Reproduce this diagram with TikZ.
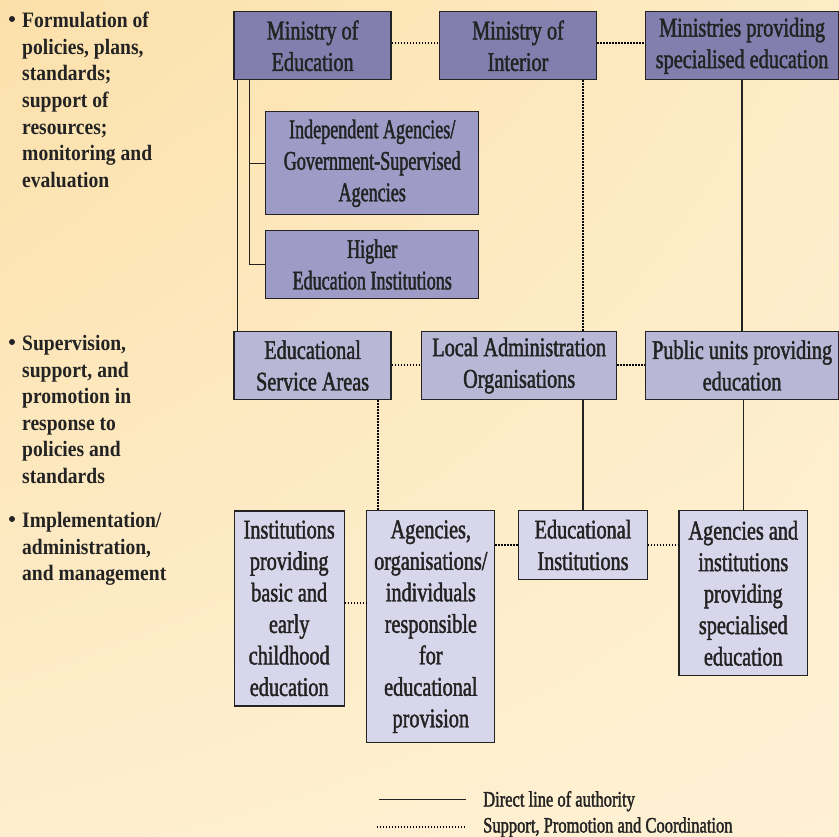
\documentclass[tikz,border=0pt]{standalone}
\usepackage{fontspec}
\setmainfont{Liberation Serif}
\newfontfamily\boxfont[FakeStretch=0.75,FakeBold=1.6]{Liberation Serif}
\newfontfamily\boxfontnarrow[FakeStretch=0.67,FakeBold=1.6]{Liberation Serif}
\newfontfamily\sidefont[FakeStretch=0.89]{Liberation Serif}
\usetikzlibrary{calc,shadings}
\definecolor{lvA}{RGB}{130,127,175}
\definecolor{lvB}{RGB}{158,155,198}
\definecolor{lvC}{RGB}{185,183,214}
\definecolor{lvD}{RGB}{216,214,234}
\definecolor{bgUL}{RGB}{252,224,170}
\definecolor{bgUR}{RGB}{253,236,198}
\definecolor{bgLL}{RGB}{254,238,205}
\definecolor{bgLR}{RGB}{254,241,212}
\definecolor{ink}{RGB}{35,35,35}
\tikzset{
  orgbox/.style={draw=ink, line width=1.3pt, inner sep=0pt, align=center, text=ink,
    font=\boxfont\fontsize{27}{31.5}\selectfont},
  narrowbox/.style={orgbox, font=\boxfontnarrow\fontsize{27}{31.5}\selectfont},
  authline/.style={draw=ink, line width=1.3pt},
  suppline/.style={draw=black, line width=2pt, dash pattern=on 1.5pt off 1.5pt},
  sidetext/.style={inner sep=0pt, align=left, anchor=north west, text=ink,
    font=\sidefont\bfseries\fontsize{22}{26.6}\selectfont},
  bulletdot/.style={circle, fill=ink, inner sep=0pt, minimum size=6pt},
  legendtext/.style={inner sep=0pt, anchor=base west, text=ink,
    font=\boxfont\fontsize{22}{26}\selectfont}
}
\begin{document}
\begin{tikzpicture}[x=1pt,y=-1pt]
\useasboundingbox (0,0) rectangle (839,837);
\shade[upper left=bgUL, upper right=bgUR, lower left=bgLL, lower right=bgLR] (0,0) rectangle (839,837);

% side texts
\node[bulletdot] (s1b) at (12,19) {};
\node[sidetext] (s1) at (22,12) {Formulation of\\policies, plans,\\standards;\\support of\\resources;\\monitoring and\\evaluation};
\node[bulletdot] (s2b) at (12,342) {};
\node[sidetext] (s2) at (22,335) {Supervision,\\support, and\\promotion in\\response to\\policies and\\standards};
\node[bulletdot] (s3b) at (12,519) {};
\node[sidetext] (s3) at (22,512) {Implementation/\\administration,\\and management};

% top row
\node[orgbox, fill=lvA, minimum width=157pt, minimum height=68pt] (moe) at (312.6,45.8) {Ministry of\\Education};
\node[orgbox, fill=lvA, minimum width=157pt, minimum height=68pt] (moi) at (518,45.8) {Ministry of\\Interior};
\node[orgbox, fill=lvA, minimum width=193pt, minimum height=68pt] (ms) at (742.1,45.8) {Ministries providing\\specialised education};

% second level
\node[narrowbox, fill=lvB, minimum width=213pt, minimum height=103pt] (ia) at (372.2,163.3) {Independent Agencies/\\Government-Supervised\\Agencies};
\node[narrowbox, fill=lvB, minimum width=213pt, minimum height=68pt] (he) at (372.2,264.5) {Higher\\Education Institutions};

% middle row
\node[orgbox, fill=lvC, minimum width=157pt, minimum height=68pt] (esa) at (312.6,365.5) {Educational\\Service Areas};
\node[orgbox, fill=lvC, minimum width=195pt, minimum height=68pt] (lao) at (519.2,365.5) {Local Administration\\Organisations};
\node[orgbox, fill=lvC, minimum width=193pt, minimum height=68pt] (pu) at (742.1,365.5) {Public units providing\\education};

% bottom row
\node[orgbox, fill=lvD, minimum width=110pt, minimum height=195pt] (inst) at (289.2,608.4) {Institutions\\providing\\basic and\\early\\childhood\\education};
\node[orgbox, fill=lvD, minimum width=128pt, minimum height=232pt] (ag) at (430.8,626.7) {Agencies,\\organisations/\\individuals\\responsible\\for\\educational\\provision};
\node[orgbox, fill=lvD, minimum width=128.6pt, minimum height=68.6pt] (ei) at (583,545) {Educational\\Institutions};
\node[orgbox, fill=lvD, minimum width=128.7pt, minimum height=165pt] (ai) at (743.3,593.3) {Agencies and\\institutions\\providing\\specialised\\education};

% direct lines of authority
\draw[authline] (moe.south -| 237.7,0) -- (esa.north -| 237.7,0);
\draw[authline] (moe.south -| 249.3,0) |- (he.west);
\draw[authline] (ia.west -| 249.3,0) -- (ia.west);
\draw[authline] (ms.south) -- (pu.north);
\draw[authline] (lao.south -| ei.north) -- (ei.north);
\draw[authline] (pu.south -| ai.north) -- (ai.north);

% support, promotion and coordination
\draw[suppline] (moe.east |- 0,43.5) -- (moi.west |- 0,43.5);
\draw[suppline] (moi.east |- 0,43.5) -- (ms.west |- 0,43.5);
\draw[suppline] (moi.south -| 582.7,0) -- (lao.north -| 582.7,0);
\draw[suppline] (esa.east) -- (lao.west);
\draw[suppline] (lao.east) -- (pu.west);
\draw[suppline] (esa.south -| 377.7,0) -- (ag.north -| 377.7,0);
\draw[suppline] (inst.east |- 0,603.3) -- (ag.west |- 0,603.3);
\draw[suppline] (ag.east |- ei.west) -- (ei.west);
\draw[suppline] (ei.east) -- (ai.west |- ei.east);

% legend
\coordinate (la1) at (378.5,799.5);
\coordinate (la2) at (466,799.5);
\coordinate (lb1) at (376.5,827);
\coordinate (lb2) at (466,827);
\draw[authline] (la1) -- (la2);
\draw[suppline] (lb1) -- (lb2);
\node[legendtext] (lt1) at (483,806.5) {Direct line of authority};
\node[legendtext] (lt2) at (483,832.5) {Support, Promotion and Coordination};
\end{tikzpicture}
\end{document}
